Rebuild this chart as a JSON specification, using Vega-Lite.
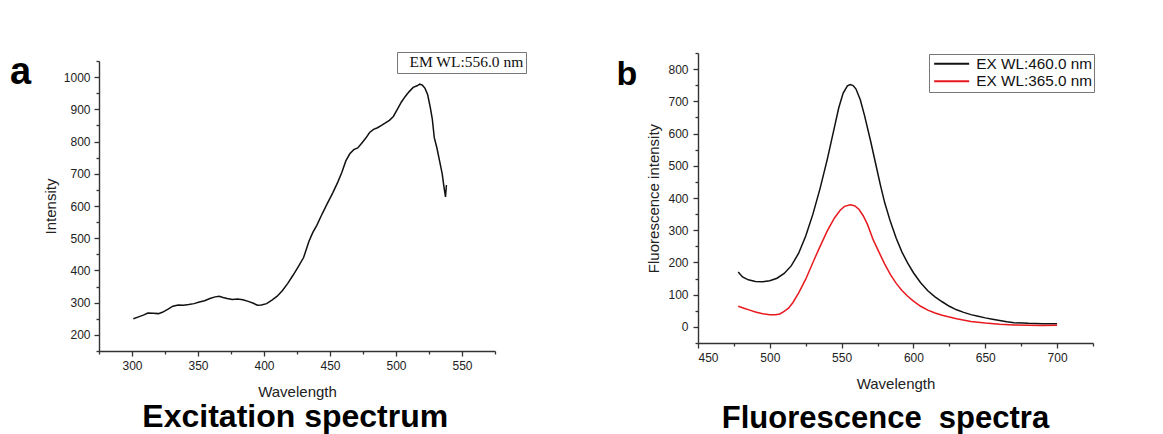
{
  "$schema": "https://vega.github.io/schema/vega-lite/v6.json",
  "padding": {"left": 10, "top": 51, "right": 5, "bottom": 0},
  "background": "white",
  "config": {
    "view": {"stroke": null},
    "font": "Liberation Sans",
    "axis": {
      "labelFont": "Liberation Sans", "labelFontSize": 12, "labelColor": "#222",
      "titleFont": "Liberation Sans", "titleFontSize": 15, "titleFontWeight": "normal", "titleColor": "#222",
      "domainColor": "#333", "domainWidth": 1.4, "tickColor": "#333", "tickWidth": 1.3, "grid": false
    }
  },
  "resolve": {"scale": {"stroke": "independent"}, "legend": {"stroke": "independent"}},
  "datasets": {
    "exc": [
      {"wavelength": 301, "intensity": 250}, {"wavelength": 305, "intensity": 256}, {"wavelength": 309, "intensity": 262},
      {"wavelength": 312, "intensity": 268}, {"wavelength": 316, "intensity": 267}, {"wavelength": 320, "intensity": 266},
      {"wavelength": 323, "intensity": 270}, {"wavelength": 327, "intensity": 279}, {"wavelength": 331, "intensity": 289},
      {"wavelength": 335, "intensity": 293}, {"wavelength": 339, "intensity": 292}, {"wavelength": 343, "intensity": 294},
      {"wavelength": 347, "intensity": 297}, {"wavelength": 351, "intensity": 302}, {"wavelength": 355, "intensity": 306},
      {"wavelength": 359, "intensity": 313}, {"wavelength": 363, "intensity": 318}, {"wavelength": 366, "intensity": 320},
      {"wavelength": 369, "intensity": 316}, {"wavelength": 372, "intensity": 313}, {"wavelength": 376, "intensity": 310},
      {"wavelength": 380, "intensity": 311}, {"wavelength": 384, "intensity": 309}, {"wavelength": 388, "intensity": 304},
      {"wavelength": 392, "intensity": 298}, {"wavelength": 395, "intensity": 292}, {"wavelength": 398, "intensity": 293},
      {"wavelength": 402, "intensity": 297}, {"wavelength": 406, "intensity": 308}, {"wavelength": 410, "intensity": 320},
      {"wavelength": 414, "intensity": 338}, {"wavelength": 418, "intensity": 360}, {"wavelength": 422, "intensity": 385},
      {"wavelength": 426, "intensity": 412}, {"wavelength": 430, "intensity": 440}, {"wavelength": 434, "intensity": 490},
      {"wavelength": 437, "intensity": 518}, {"wavelength": 440, "intensity": 540}, {"wavelength": 444, "intensity": 575},
      {"wavelength": 448, "intensity": 608}, {"wavelength": 452, "intensity": 640}, {"wavelength": 456, "intensity": 675},
      {"wavelength": 459, "intensity": 705}, {"wavelength": 462, "intensity": 740}, {"wavelength": 465, "intensity": 762},
      {"wavelength": 468, "intensity": 775}, {"wavelength": 471, "intensity": 780}, {"wavelength": 474, "intensity": 795},
      {"wavelength": 477, "intensity": 810}, {"wavelength": 480, "intensity": 828}, {"wavelength": 483, "intensity": 838},
      {"wavelength": 486, "intensity": 843}, {"wavelength": 489, "intensity": 850}, {"wavelength": 492, "intensity": 858},
      {"wavelength": 495, "intensity": 866}, {"wavelength": 498, "intensity": 878}, {"wavelength": 501, "intensity": 900},
      {"wavelength": 504, "intensity": 922}, {"wavelength": 507, "intensity": 940}, {"wavelength": 510, "intensity": 955},
      {"wavelength": 513, "intensity": 968}, {"wavelength": 516, "intensity": 973}, {"wavelength": 518, "intensity": 978},
      {"wavelength": 520, "intensity": 975}, {"wavelength": 522, "intensity": 965}, {"wavelength": 524, "intensity": 945},
      {"wavelength": 526, "intensity": 905}, {"wavelength": 527.5, "intensity": 870}, {"wavelength": 529, "intensity": 812},
      {"wavelength": 531, "intensity": 780}, {"wavelength": 533, "intensity": 740}, {"wavelength": 535, "intensity": 700},
      {"wavelength": 536.5, "intensity": 655}, {"wavelength": 537.5, "intensity": 628}, {"wavelength": 538.2, "intensity": 665}
    ],
    "flu": [
      {"wavelength": 478, "intensity": 170, "series": "EX WL:460.0 nm"}, {"wavelength": 481, "intensity": 155, "series": "EX WL:460.0 nm"},
      {"wavelength": 485, "intensity": 146, "series": "EX WL:460.0 nm"}, {"wavelength": 490, "intensity": 141, "series": "EX WL:460.0 nm"},
      {"wavelength": 495, "intensity": 140, "series": "EX WL:460.0 nm"}, {"wavelength": 500, "intensity": 143, "series": "EX WL:460.0 nm"},
      {"wavelength": 505, "intensity": 151, "series": "EX WL:460.0 nm"}, {"wavelength": 510, "intensity": 166, "series": "EX WL:460.0 nm"},
      {"wavelength": 515, "intensity": 190, "series": "EX WL:460.0 nm"}, {"wavelength": 520, "intensity": 228, "series": "EX WL:460.0 nm"},
      {"wavelength": 525, "intensity": 282, "series": "EX WL:460.0 nm"}, {"wavelength": 530, "intensity": 350, "series": "EX WL:460.0 nm"},
      {"wavelength": 535, "intensity": 430, "series": "EX WL:460.0 nm"}, {"wavelength": 540, "intensity": 520, "series": "EX WL:460.0 nm"},
      {"wavelength": 545, "intensity": 620, "series": "EX WL:460.0 nm"}, {"wavelength": 548, "intensity": 680, "series": "EX WL:460.0 nm"},
      {"wavelength": 551, "intensity": 725, "series": "EX WL:460.0 nm"}, {"wavelength": 554, "intensity": 748, "series": "EX WL:460.0 nm"},
      {"wavelength": 556, "intensity": 752, "series": "EX WL:460.0 nm"}, {"wavelength": 558, "intensity": 749, "series": "EX WL:460.0 nm"},
      {"wavelength": 560, "intensity": 738, "series": "EX WL:460.0 nm"}, {"wavelength": 563, "intensity": 705, "series": "EX WL:460.0 nm"},
      {"wavelength": 566, "intensity": 655, "series": "EX WL:460.0 nm"}, {"wavelength": 570, "intensity": 580, "series": "EX WL:460.0 nm"},
      {"wavelength": 574, "intensity": 500, "series": "EX WL:460.0 nm"}, {"wavelength": 577, "intensity": 440, "series": "EX WL:460.0 nm"},
      {"wavelength": 580, "intensity": 385, "series": "EX WL:460.0 nm"}, {"wavelength": 584, "intensity": 326, "series": "EX WL:460.0 nm"},
      {"wavelength": 588, "intensity": 275, "series": "EX WL:460.0 nm"}, {"wavelength": 592, "intensity": 232, "series": "EX WL:460.0 nm"},
      {"wavelength": 596, "intensity": 198, "series": "EX WL:460.0 nm"}, {"wavelength": 600, "intensity": 168, "series": "EX WL:460.0 nm"},
      {"wavelength": 605, "intensity": 137, "series": "EX WL:460.0 nm"}, {"wavelength": 610, "intensity": 112, "series": "EX WL:460.0 nm"},
      {"wavelength": 615, "intensity": 93, "series": "EX WL:460.0 nm"}, {"wavelength": 620, "intensity": 78, "series": "EX WL:460.0 nm"},
      {"wavelength": 625, "intensity": 64, "series": "EX WL:460.0 nm"}, {"wavelength": 630, "intensity": 53, "series": "EX WL:460.0 nm"},
      {"wavelength": 635, "intensity": 45, "series": "EX WL:460.0 nm"}, {"wavelength": 640, "intensity": 38, "series": "EX WL:460.0 nm"},
      {"wavelength": 645, "intensity": 33, "series": "EX WL:460.0 nm"}, {"wavelength": 650, "intensity": 28, "series": "EX WL:460.0 nm"},
      {"wavelength": 655, "intensity": 24, "series": "EX WL:460.0 nm"}, {"wavelength": 660, "intensity": 20, "series": "EX WL:460.0 nm"},
      {"wavelength": 665, "intensity": 16, "series": "EX WL:460.0 nm"}, {"wavelength": 670, "intensity": 13, "series": "EX WL:460.0 nm"},
      {"wavelength": 680, "intensity": 11, "series": "EX WL:460.0 nm"}, {"wavelength": 690, "intensity": 10, "series": "EX WL:460.0 nm"},
      {"wavelength": 700, "intensity": 10, "series": "EX WL:460.0 nm"},
      {"wavelength": 478, "intensity": 64, "series": "EX WL:365.0 nm"}, {"wavelength": 482, "intensity": 58, "series": "EX WL:365.0 nm"},
      {"wavelength": 486, "intensity": 52, "series": "EX WL:365.0 nm"}, {"wavelength": 490, "intensity": 46, "series": "EX WL:365.0 nm"},
      {"wavelength": 495, "intensity": 41, "series": "EX WL:365.0 nm"}, {"wavelength": 500, "intensity": 38, "series": "EX WL:365.0 nm"},
      {"wavelength": 504, "intensity": 38, "series": "EX WL:365.0 nm"}, {"wavelength": 507, "intensity": 40, "series": "EX WL:365.0 nm"},
      {"wavelength": 510, "intensity": 48, "series": "EX WL:365.0 nm"}, {"wavelength": 513, "intensity": 58, "series": "EX WL:365.0 nm"},
      {"wavelength": 516, "intensity": 75, "series": "EX WL:365.0 nm"}, {"wavelength": 520, "intensity": 105, "series": "EX WL:365.0 nm"},
      {"wavelength": 525, "intensity": 148, "series": "EX WL:365.0 nm"}, {"wavelength": 530, "intensity": 200, "series": "EX WL:365.0 nm"},
      {"wavelength": 535, "intensity": 250, "series": "EX WL:365.0 nm"}, {"wavelength": 540, "intensity": 298, "series": "EX WL:365.0 nm"},
      {"wavelength": 545, "intensity": 338, "series": "EX WL:365.0 nm"}, {"wavelength": 549, "intensity": 362, "series": "EX WL:365.0 nm"},
      {"wavelength": 552, "intensity": 374, "series": "EX WL:365.0 nm"}, {"wavelength": 556, "intensity": 379, "series": "EX WL:365.0 nm"},
      {"wavelength": 559, "intensity": 376, "series": "EX WL:365.0 nm"}, {"wavelength": 562, "intensity": 365, "series": "EX WL:365.0 nm"},
      {"wavelength": 565, "intensity": 345, "series": "EX WL:365.0 nm"}, {"wavelength": 568, "intensity": 318, "series": "EX WL:365.0 nm"},
      {"wavelength": 572, "intensity": 270, "series": "EX WL:365.0 nm"}, {"wavelength": 576, "intensity": 232, "series": "EX WL:365.0 nm"},
      {"wavelength": 580, "intensity": 195, "series": "EX WL:365.0 nm"}, {"wavelength": 584, "intensity": 162, "series": "EX WL:365.0 nm"},
      {"wavelength": 588, "intensity": 135, "series": "EX WL:365.0 nm"}, {"wavelength": 592, "intensity": 113, "series": "EX WL:365.0 nm"},
      {"wavelength": 596, "intensity": 95, "series": "EX WL:365.0 nm"}, {"wavelength": 600, "intensity": 80, "series": "EX WL:365.0 nm"},
      {"wavelength": 605, "intensity": 64, "series": "EX WL:365.0 nm"}, {"wavelength": 610, "intensity": 52, "series": "EX WL:365.0 nm"},
      {"wavelength": 615, "intensity": 43, "series": "EX WL:365.0 nm"}, {"wavelength": 620, "intensity": 36, "series": "EX WL:365.0 nm"},
      {"wavelength": 630, "intensity": 25, "series": "EX WL:365.0 nm"}, {"wavelength": 640, "intensity": 17, "series": "EX WL:365.0 nm"},
      {"wavelength": 650, "intensity": 12, "series": "EX WL:365.0 nm"}, {"wavelength": 660, "intensity": 8, "series": "EX WL:365.0 nm"},
      {"wavelength": 670, "intensity": 6, "series": "EX WL:365.0 nm"}, {"wavelength": 680, "intensity": 5, "series": "EX WL:365.0 nm"},
      {"wavelength": 690, "intensity": 4, "series": "EX WL:365.0 nm"}, {"wavelength": 700, "intensity": 5, "series": "EX WL:365.0 nm"}
    ]
  },
  "spacing": 89,
  "hconcat": [
    {
      "title": {"text": "Excitation spectrum", "orient": "bottom", "anchor": "middle", "dx": 27, "fontSize": 32, "fontWeight": "bold", "font": "Liberation Sans", "color": "#000", "offset": 3},
      "spacing": 0,
      "vconcat": [
        {"width": 396, "height": 1, "data": {"values": []}, "mark": "point"},
        {
          "title": {"text": "a", "orient": "left", "anchor": "end", "angle": 0, "align": "right", "baseline": "alphabetic", "dy": 24, "offset": -9, "fontSize": 38, "fontWeight": "bold", "font": "Liberation Sans", "color": "#000"},
          "width": 396,
          "height": 290,
          "data": {"name": "exc"},
          "mark": {"type": "line", "strokeWidth": 1.5},
          "encoding": {
            "x": {
              "field": "wavelength", "type": "quantitative",
              "scale": {"domain": [275, 575], "nice": false, "zero": false},
              "axis": {
                "title": "Wavelength", "titlePadding": 13,
                "values": [275, 300, 325, 350, 375, 400, 425, 450, 475, 500, 525, 550, 575],
                "labelExpr": "datum.value % 50 === 0 ? datum.label : ''",
                "tickSize": {"condition": {"test": "datum.value % 50 === 0", "value": 5}, "value": 3},
                "labelPadding": 4
              }
            },
            "y": {
              "field": "intensity", "type": "quantitative",
              "scale": {"domain": [150, 1050], "nice": false, "zero": false},
              "axis": {
                "title": "Intensity", "titlePadding": 5, "format": "d",
                "values": [150, 200, 250, 300, 350, 400, 450, 500, 550, 600, 650, 700, 750, 800, 850, 900, 950, 1000, 1050],
                "labelExpr": "datum.value % 100 === 0 ? datum.label : ''",
                "tickSize": {"condition": {"test": "datum.value % 100 === 0", "value": 5}, "value": 3},
                "labelPadding": 4
              }
            },
            "stroke": {
              "datum": "EM WL:556.0 nm", "type": "nominal",
              "scale": {"range": ["#111111"]},
              "legend": {
                "orient": "none", "legendX": 298, "legendY": -1, "title": null,
                "symbolType": "circle", "symbolSize": 1, "symbolOpacity": 0, "symbolStrokeWidth": 0,
                "labelFont": "Liberation Serif", "labelFontSize": 15.5, "labelColor": "#111",
                "labelOffset": -5, "padding": 2, "strokeColor": "#777", "fillColor": "white"
              }
            }
          }
        }
      ]
    },
    {
      "title": {"text": "Fluorescence\u00a0 spectra", "orient": "bottom", "anchor": "middle", "dx": 30, "fontSize": 31, "fontWeight": "bold", "font": "Liberation Sans", "color": "#000", "offset": 13},
      "vconcat": [
        {
          "title": {"text": "b", "orient": "left", "anchor": "end", "angle": 0, "align": "right", "baseline": "alphabetic", "dy": 33, "offset": -11, "fontSize": 34, "fontWeight": "bold", "font": "Liberation Sans", "color": "#000"},
          "width": 395,
          "height": 290,
          "data": {"name": "flu"},
          "mark": {"type": "line", "strokeWidth": 1.5},
          "encoding": {
            "x": {
              "field": "wavelength", "type": "quantitative",
              "scale": {"domain": [450, 725], "nice": false, "zero": false},
              "axis": {
                "title": "Wavelength", "titlePadding": 13,
                "values": [450, 475, 500, 525, 550, 575, 600, 625, 650, 675, 700, 725],
                "labelExpr": "datum.value % 50 === 0 ? datum.label : ''",
                "tickSize": {"condition": {"test": "datum.value % 50 === 0", "value": 5}, "value": 3},
                "labelPadding": 4
              }
            },
            "y": {
              "field": "intensity", "type": "quantitative",
              "scale": {"domain": [-50, 850], "nice": false, "zero": false},
              "axis": {
                "title": "Fluorescence intensity", "titlePadding": 6, "format": "d",
                "values": [-50, 0, 50, 100, 150, 200, 250, 300, 350, 400, 450, 500, 550, 600, 650, 700, 750, 800, 850],
                "labelExpr": "datum.value % 100 === 0 ? datum.label : ''",
                "tickSize": {"condition": {"test": "datum.value % 100 === 0", "value": 5}, "value": 3},
                "labelPadding": 5
              }
            },
            "stroke": {
              "field": "series", "type": "nominal",
              "scale": {"domain": ["EX WL:460.0 nm", "EX WL:365.0 nm"], "range": ["#111111", "#e8191e"]},
              "legend": {
                "orient": "none", "legendX": 231, "legendY": 1, "title": null,
                "symbolType": "M-3,0H3", "symbolSize": 136, "symbolStrokeWidth": 2, "symbolOffset": 13,
                "labelFont": "Liberation Sans", "labelFontSize": 15.3, "labelColor": "#111",
                "labelOffset": 17, "padding": 2, "rowPadding": 1.5,
                "strokeColor": "#777", "fillColor": "white"
              }
            }
          }
        }
      ]
    }
  ]
}
